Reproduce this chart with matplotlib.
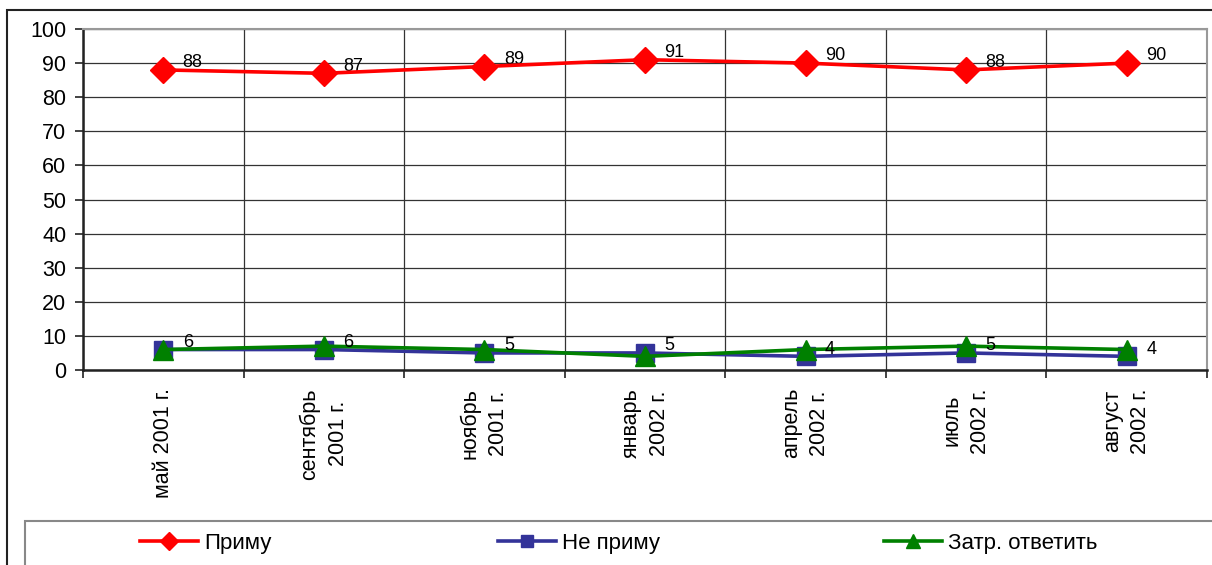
import numpy as np
import matplotlib.pyplot as plt
import matplotlib.patches as mpatches

plt.rcParams['font.family'] = ['Liberation Sans', 'DejaVu Sans']

labels = ['май 2001 г.', 'сентябрь\n2001 г.', 'ноябрь\n2001 г.', 'январь\n2002 г.',
          'апрель\n2002 г.', 'июль\n2002 г.', 'август\n2002 г.']
accept = [88, 87, 89, 91, 90, 88, 90]
reject = [6, 6, 5, 5, 4, 5, 4]
hard = [6, 7, 6, 4, 6, 7, 6]

x = np.arange(len(labels))

fig = plt.figure(figsize=(12.12, 5.65), dpi=100)
ax = fig.add_axes([83/1212, 1-370/565, (1207-83)/1212, (370-29)/565])

l1, = ax.plot(x, accept, color='#FF0000', lw=2.6, marker='D', ms=13, label='Приму', zorder=4)
l2, = ax.plot(x, reject, color='#333399', lw=2.6, marker='s', ms=13, label='Не приму', zorder=3)
l3, = ax.plot(x, hard, color='#008000', lw=2.6, marker='^', ms=14, label='Затр. ответить', zorder=5)

for xi, v in zip(x, accept):
    ax.annotate(str(v), (xi, v), xytext=(14, -1), textcoords='offset points',
                ha='left', va='bottom', fontsize=13)
for xi, v in zip(x, reject):
    ax.annotate(str(v), (xi, v), xytext=(14, -1), textcoords='offset points',
                ha='left', va='bottom', fontsize=13, zorder=6)

ax.set_xlim(-0.5, len(labels) - 0.5)
ax.set_ylim(0, 100)
ax.set_yticks(np.arange(0, 101, 10))
ax.set_xticks(np.arange(-0.5, len(labels), 1))
ax.set_xticklabels([])
ax.set_xticks(x, minor=True)
ax.set_xticklabels(labels, minor=True, rotation=90, fontsize=15.5, ha='center', va='top',
                   linespacing=1.45)
ax.tick_params(axis='x', which='minor', length=0, pad=13)
ax.tick_params(axis='x', which='major', length=6, width=1.2, color='#222222')
ax.tick_params(axis='y', length=6, width=1.2, pad=6, labelsize=15.5, color='#222222')
ax.grid(True, which='major', color='#333333', lw=0.9)
ax.set_axisbelow(True)

for s in ['left', 'bottom']:
    ax.spines[s].set_color('#222222')
    ax.spines[s].set_linewidth(1.8)
for s in ['top', 'right']:
    ax.spines[s].set_color('#999999')
    ax.spines[s].set_linewidth(1.5)

# outer chart border and legend box
fig.patches.append(mpatches.Rectangle((7/1212, -0.1), 1.2, 1-10/565+0.1, transform=fig.transFigure,
                                      fill=False, edgecolor='#222222', lw=1.5))
fig.patches.append(mpatches.Rectangle((25/1212, -0.1), 1.2, 1-521/565+0.1, transform=fig.transFigure,
                                      fill=False, edgecolor='#888888', lw=1.5))

for h, xpos in zip([l1, l2, l3], [140, 498, 884]):
    fig.legend(handles=[h], frameon=False, fontsize=16, loc='center left',
               bbox_to_anchor=(xpos/1212, 1-543/565), borderpad=0, borderaxespad=0,
               handlelength=2.6, handletextpad=0.3, markerscale=0.7)

fig.savefig('out.png', dpi=100)
